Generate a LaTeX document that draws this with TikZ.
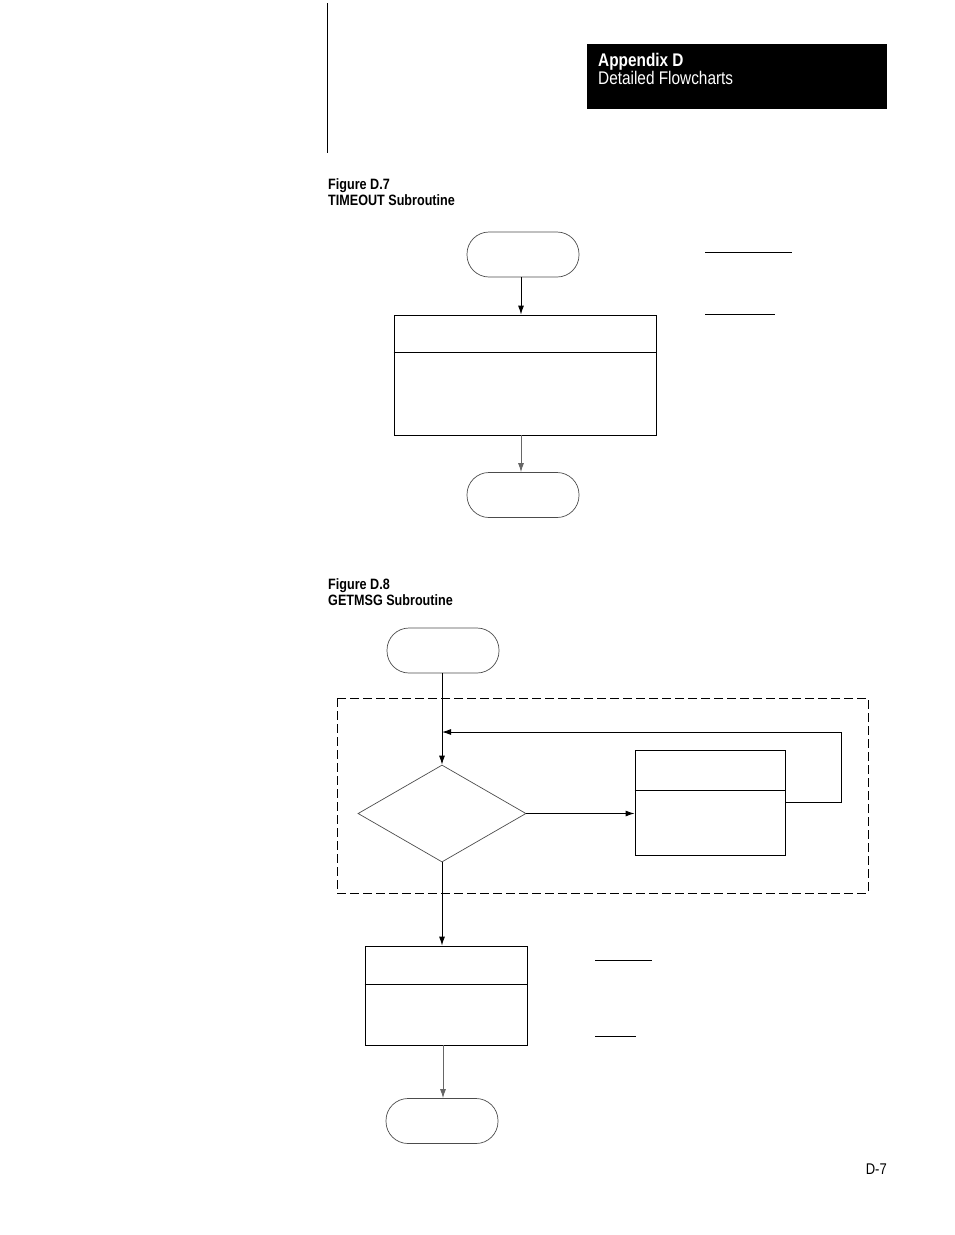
\documentclass[tikz,border=0pt]{standalone}
\usepackage{fontspec}
\setmainfont{Liberation Sans}[FakeStretch=0.84]
\usetikzlibrary{arrows.meta,shapes.geometric}
\begin{document}
\begin{tikzpicture}[x=1pt,y=-1pt,
  term/.style={draw=black!70,line width=0.7pt,rounded corners=22pt,minimum width=112pt,minimum height=45pt,inner sep=0pt},
  procbox/.style={draw=black,line width=0.9pt,inner sep=0pt},
  decis/.style={draw=black!70,line width=0.7pt,diamond,inner sep=0pt,minimum width=168pt,minimum height=97pt,aspect=1.73},
  flow/.style={line width=0.9pt,-{Latex[length=9pt,width=6pt]}},
  line/.style={line width=0.9pt},
  ulin/.style={line width=1pt},
  caption/.style={anchor=base west,inner sep=0pt,font=\fontsize{15}{17}\selectfont\bfseries}
]
\useasboundingbox (0,0) rectangle (954,1235);
% page furniture
\draw[line width=1pt] (327,3) -- (327,153);
\node[fill=black,minimum width=300pt,minimum height=65pt,inner sep=0pt,anchor=north west] (hdr) at (587,44) {};
\node[anchor=base west,inner sep=0pt,text=white,font=\fontsize{18.3}{20}\selectfont\bfseries] (hdra) at (598,66) {Appendix D};
\node[anchor=base west,inner sep=0pt,text=white,font=\fontsize{18.3}{20}\selectfont] (hdrb) at (598,84) {Detailed Flowcharts};
\node[caption] (cap7a) at (328,189) {Figure D.7};
\node[caption] (cap7b) at (328,205) {TIMEOUT Subroutine};
\node[caption] (cap8a) at (328,589) {Figure D.8};
\node[caption] (cap8b) at (328,605) {GETMSG Subroutine};
\node[anchor=base east,inner sep=0pt,font=\fontsize{15.5}{17}\selectfont] (pg) at (887,1174) {D-7};

% Figure D.7
\node[term] (t1) at (523,254.5) {};
\node[procbox,minimum width=262pt,minimum height=120pt] (b1) at (525,375) {};
\draw[line] (b1.west |- 0,352) -- (b1.east |- 0,352);
\node[term] (t2) at (523,495) {};
\draw[flow] (t1.south -| 521,0) -- (b1.north -| 521,0);
\draw[flow,draw=black!60,fill=black] (b1.south -| 521,0) -- (t2.north -| 521,0);
\coordinate (u1a) at (705,252); \coordinate (u1b) at (792,252);
\coordinate (u2a) at (705,314); \coordinate (u2b) at (775,314);
\draw[ulin] (u1a) -- (u1b);
\draw[ulin] (u2a) -- (u2b);

% Figure D.8
\node[term] (t3) at (443,650.5) {};
\draw[dashed,dash pattern=on 9pt off 4pt,line width=1pt] (337,698) rectangle (868,893);
\node[decis] (d1) at (442,813.5) {};
\node[procbox,minimum width=150pt,minimum height=105pt] (b2) at (710,802.5) {};
\draw[line] (b2.west |- 0,790) -- (b2.east |- 0,790);
\coordinate (j1) at (442,732);
\coordinate (r1) at (841,732);
\coordinate (r2) at (841,802);
\draw[flow] (t3.south -| 442,0) -- (d1.north);
\draw[line] (b2.east |- r2) -- (r2) -- (r1);
\draw[flow] (r1) -- (j1);
\draw[flow] (d1.east) -- (b2.west |- d1.east);
\node[procbox,minimum width=162pt,minimum height=99pt] (b3) at (446,995.5) {};
\draw[line] (b3.west |- 0,984) -- (b3.east |- 0,984);
\draw[flow] (d1.south) -- (b3.north -| d1.south);
\node[term] (t4) at (442,1121) {};
\draw[flow,draw=black!60,fill=black] (b3.south -| 443,0) -- (t4.north -| 443,0);
\coordinate (u3a) at (595,960); \coordinate (u3b) at (652,960);
\coordinate (u4a) at (595,1036); \coordinate (u4b) at (636,1036);
\draw[ulin] (u3a) -- (u3b);
\draw[ulin] (u4a) -- (u4b);
\end{tikzpicture}
\end{document}
